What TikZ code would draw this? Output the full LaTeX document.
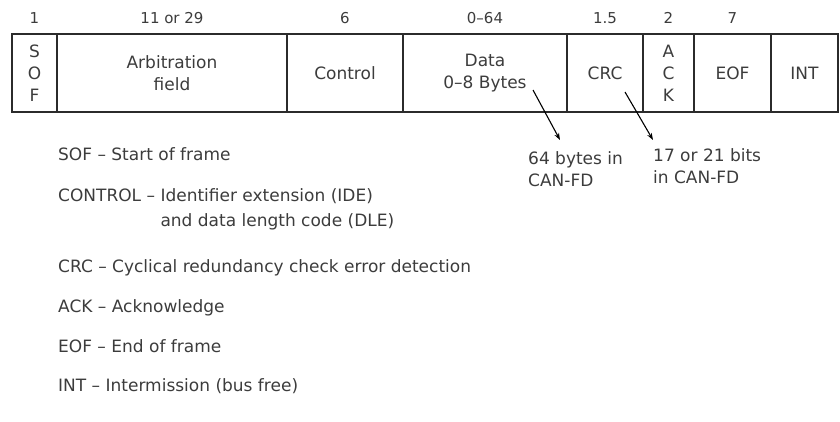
\documentclass[tikz,border=0pt]{standalone}
\usepackage{fontspec}
\setmainfont{DejaVu Sans}
\usepackage{tikz}
\usetikzlibrary{positioning, arrows.meta}
\definecolor{ink}{HTML}{3c3c3c}
\definecolor{frame}{HTML}{2b2b2b}
\newcommand{\txt}{\fontsize{17}{22}\selectfont}

\begin{document}
\begin{tikzpicture}[x=1pt, y=-1pt, fld/.style={draw=frame, line width=1.2pt, minimum height=78pt, inner sep=0pt, outer sep=0pt, align=center, text=ink, font=\txt},bits/.style={font=\fontsize{15}{18}\selectfont, text=ink, inner sep=0pt, text depth=0pt},note/.style={anchor=north west, align=left, inner sep=0pt, text=ink, font=\fontsize{17}{22}\selectfont},key/.style={anchor=base west, inner sep=0pt, text=ink, font=\txt},arr/.style={-{Stealth[length=7pt, width=5pt]}, line width=1.1pt, color=black}]
\useasboundingbox (0,0) rectangle (840,421);
\node[fld, minimum width=45pt] (sof) at (34.5,73) {S\\O\\F};
\node[fld, minimum width=230pt, right=0pt of sof] (arb) {Arbitration\\field};
\node[fld, minimum width=116pt, right=0pt of arb] (ctrl) {Control};
\node[fld, minimum width=164pt, right=0pt of ctrl] (data) {Data\\0–8 Bytes};
\node[fld, minimum width=76pt, right=0pt of data] (crc) {CRC};
\node[fld, minimum width=51pt, right=0pt of crc] (ack) {A\\C\\K};
\node[fld, minimum width=77pt, right=0pt of ack] (eof) {EOF};
\node[fld, minimum width=67pt, right=0pt of eof] (int) {INT};
\node[bits, above=10pt of sof] {1};
\node[bits, above=10pt of arb] {11 or 29};
\node[bits, above=10pt of ctrl] {6};
\node[bits, above=10pt of data] {0–64};
\node[bits, above=10pt of crc] {1.5};
\node[bits, above=10pt of ack] {2};
\node[bits, above=10pt of eof] {7};
\coordinate (bytestail) at (533,90);
\coordinate (crctail) at (625,92);
\node[note] (fdbytes) at (528,151) {64 bytes in\\CAN-FD};
\node[note] (fdcrc) at (653,148) {17 or 21 bits\\in CAN-FD};
\draw[arr] (bytestail) -- ([xshift=32pt, yshift=11pt]fdbytes.north west);
\draw[arr] (crctail) -- ([yshift=8pt]fdcrc.north west);
\node[key] (sofkey) at (58,160) {SOF – Start of frame};
\node[key] (ctrlkey) at (58,201) {CONTROL – \begin{tabular}[t]{@{}l@{}}Identifier extension (IDE)\\[3pt]and data length code (DLE)\end{tabular}};
\node[key] (crckey) at (58,272) {CRC – Cyclical redundancy check error detection};
\node[key] (ackkey) at (58,312) {ACK – Acknowledge};
\node[key] (eofkey) at (58,352) {EOF – End of frame};
\node[key] (intkey) at (58,391) {INT – Intermission (bus free)};
\end{tikzpicture}
\end{document}
